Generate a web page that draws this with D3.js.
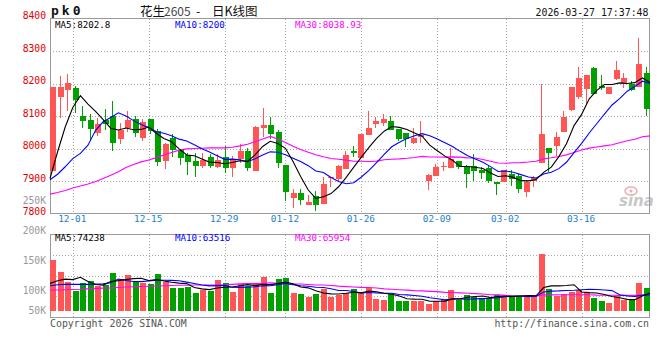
<!DOCTYPE html>
<html>
<head>
<meta charset="utf-8">
<script src="https://cdn.jsdelivr.net/npm/d3@7/dist/d3.min.js"></script>
<style>
  body { margin: 0; background: #fff; }
  svg { display: block; }
  text { font-family: "DejaVu Sans Mono", monospace; }
</style>
</head>
<body>
<svg id="chart" width="660" height="360"></svg>
<script>
// daily bars, 11-26 .. 03-27 (80 sessions)
var opens = [7933, 8159, 8180, 8186, 8100, 8088, 8049, 8088, 8100, 8031,
  8064, 8092, 8034, 8092, 8054, 7963, 8034, 7995, 7980, 7962,
  7948, 7974, 7945, 7974, 7940, 7969, 7992, 7933, 8064, 8072,
  8051, 7951, 7849, 7864, 7828, 7856, 7832, 7911, 7907, 7939,
  7994, 7972, 8042, 8077, 8080, 8085, 8060, 8050, 8018, 8037,
  7902, 7917, 7943, 7940, 7962, 7947, 7947, 7935, 7940, 7898,
  7898, 7922, 7916, 7868, 7901, 7958, 8003, 8009, 8052, 8118,
  8159, 8183, 8248, 8192, 8168, 8213, 8200, 8200, 8190, 8232];
var highs = [8189, 8223, 8230, 8194, 8131, 8106, 8096, 8121, 8147, 8079,
  8115, 8100, 8092, 8092, 8062, 8018, 8044, 7998, 7987, 7986,
  7988, 7984, 7985, 8008, 7978, 8016, 8004, 8069, 8124, 8098,
  8057, 7951, 7877, 7877, 7859, 7872, 7914, 7914, 7950, 7993,
  8008, 8045, 8116, 8099, 8107, 8102, 8060, 8050, 8065, 8085,
  7924, 7952, 7960, 8004, 7962, 7950, 7983, 7945, 7948, 7898,
  7935, 7935, 7922, 7904, 7917, 8200, 8003, 8052, 8115, 8190,
  8251, 8226, 8251, 8226, 8190, 8269, 8234, 8208, 8339, 8250];
var lows = [7933, 8096, 8115, 8110, 8064, 8023, 8039, 8059, 7994, 8015,
  8052, 8035, 8023, 8046, 7948, 7938, 7976, 7951, 7921, 7914,
  7940, 7942, 7940, 7927, 7914, 7957, 7932, 7933, 8035, 8031,
  7942, 7840, 7819, 7828, 7828, 7809, 7832, 7884, 7902, 7939,
  7976, 7972, 8042, 8064, 8069, 8057, 8023, 8006, 8015, 8018,
  7873, 7917, 7933, 7940, 7939, 7881, 7901, 7907, 7894, 7859,
  7898, 7886, 7863, 7853, 7884, 7958, 7930, 7978, 8052, 8116,
  8154, 8139, 8167, 8180, 8168, 8210, 8188, 8178, 8190, 8100];
var closes = [8189, 8189, 8201, 8150, 8086, 8061, 8076, 8076, 8018, 8059,
  8090, 8049, 8082, 8054, 7960, 8015, 7997, 7973, 7960, 7948,
  7967, 7948, 7967, 7942, 7967, 7992, 7940, 8066, 8072, 8046,
  7957, 7867, 7864, 7843, 7837, 7828, 7892, 7914, 7947, 7980,
  7987, 8045, 8063, 8085, 8091, 8059, 8031, 8030, 8033, 8042,
  7920, 7945, 7948, 7970, 7945, 7922, 7933, 7927, 7902, 7891,
  7935, 7907, 7877, 7899, 7911, 8045, 7988, 8037, 8097, 8190,
  8217, 8226, 8167, 8188, 8190, 8241, 8217, 8180, 8259, 8121];
var volumes = [215400, 164200, 122100, 84300, 117200, 126400, 102300, 109100, 160200, 134800,
  148900, 122300, 116800, 111200, 155900, 119300, 96800, 97100, 101200, 75800,
  88400, 81200, 130600, 118100, 80200, 113700, 105300, 110800, 143200, 75900,
  134700, 139100, 76300, 71800, 59200, 72100, 92800, 58900, 67300, 75800,
  93100, 80200, 96900, 50800, 46300, 71900, 42300, 41800, 42100, 42400,
  29300, 42200, 46100, 88300, 43200, 64400, 57700, 54800, 55200, 67100,
  67300, 57800, 63200, 62900, 63100, 240200, 92700, 63300, 71800, 78900,
  88100, 78800, 54900, 42200, 33800, 63100, 44200, 48300, 117900, 96800];

// averages at the left edge need sessions that are off the chart
var ma5Lead = [7909, 7991, 8067, 8127];
var ma10Lead = [7905, 7922, 7945, 7970, 7986, 8011, 8057, 8083, 8096];
var ma30Lead = [7861, 7866, 7872, 7880, 7886, 7892, 7900, 7909, 7919, 7930,
  7943, 7952, 7960, 7966, 7973, 7981, 7989, 7996, 8000, 8001,
  8002, 8003, 8003, 8003, 8005, 8009, 8014, 8022, 8030];
var volMa5Lead = [115000, 126000, 133000, 131000];
var volMa10Lead = [105000, 109000, 111000, 111000, 111000, 111000, 112000, 113000, 118000];
var volMa30Lead = [87000, 87000, 88000, 89000, 90000, 92000, 94000, 95000, 96000, 98000,
  100000, 101000, 102000, 103000, 104000, 105000, 106000, 107000, 107000, 108000,
  108000, 108000, 108000, 109000, 111000, 113000, 114000, 114000, 114000];

var tickIndex = [3, 13, 23, 31, 41, 51, 60, 70];
var tickLabels = ['12-01', '12-15', '12-29', '01-12', '01-26', '02-09', '03-02', '03-16'];
var priceTicks = [7800, 7900, 8000, 8100, 8200, 8300, 8400];
var volTicks = [50000, 100000, 150000, 200000];
var volTickLabels = ['50K', '100K', '150K', '200K'];
var priceMaText = ['MA5:8202.8', 'MA10:8200', 'MA30:8038.93'];
var volMaText = ['MA5:74238', 'MA10:63516', 'MA30:65954'];
var titleParts = ['花生', '2605', '-', '日K线图'];
var maColors = ['#000000', '#0000ff', '#ff00ff'];

var UP = '#ff5555', DOWN = '#00a000', FRAME = '#9a9a9a', GRID = '#a8a8a8';

var svg = d3.select('#chart');
var plot = { left: 50, right: 650 };
var main = { top: 18.5, bottom: 214 };
var vol = { top: 234.7, bottom: 318, base: 310.7 };

var n = closes.length;
var idx = d3.range(n);

var xBand = d3.scaleBand().domain(idx).range([plot.left, plot.right])
  .paddingInner(0.2).paddingOuter(0);
// ma lines and the date grid run edge to edge on the index
var xLine = d3.scaleLinear().domain([0, n - 1]).range([plot.left, plot.right]);
var yPrice = d3.scaleLinear().domain([7800, 8400]).range([main.bottom, main.top]);
var yVol = d3.scaleLinear().domain([0, 320000]).range([vol.base, vol.top]);
// sina puts the volume labels unevenly
var yVolLabel = d3.scaleLinear().domain(volTicks).range([310.7, 290.7, 260, 230.7]);

function rollingMean(values, span, lead) {
  return values.map(function(v, i) {
    if (i < span - 1) return lead[i];
    return d3.mean(values.slice(i - span + 1, i + 1));
  });
}

var priceMa = [
  rollingMean(closes, 5, ma5Lead),
  rollingMean(closes, 10, ma10Lead),
  rollingMean(closes, 30, ma30Lead)
];
var volMa = [
  rollingMean(volumes, 5, volMa5Lead),
  rollingMean(volumes, 10, volMa10Lead),
  rollingMean(volumes, 30, volMa30Lead)
];

/* ---- grid ---- */
var grid = svg.append('g').attr('stroke', GRID).attr('stroke-dasharray', '1,2')
  .attr('shape-rendering', 'crispEdges');

grid.selectAll('line.h')
    .data(priceTicks.slice(1, -1))
  .enter().append('line')
    .attr('x1', plot.left).attr('x2', plot.right)
    .attr('y1', function(d) { return Math.round(yPrice(d)) + 0.5; })
    .attr('y2', function(d) { return Math.round(yPrice(d)) + 0.5; });

grid.selectAll('line.vh')
    .data(d3.range(1, 4))
  .enter().append('line')
    .attr('x1', plot.left).attr('x2', plot.right)
    .attr('y1', function(d) { return Math.round(vol.top + d * (316.7 - vol.top) / 4) + 0.5; })
    .attr('y2', function(d) { return Math.round(vol.top + d * (316.7 - vol.top) / 4) + 0.5; });

[[main.top, main.bottom], [vol.top, vol.bottom]].forEach(function(p) {
  grid.selectAll(null)
      .data(tickIndex)
    .enter().append('line')
      .attr('x1', function(d) { return Math.round(xLine(d)) + 0.5; })
      .attr('x2', function(d) { return Math.round(xLine(d)) + 0.5; })
      .attr('y1', p[0]).attr('y2', p[1]);
});

/* ---- frames ---- */
var frame = svg.append('g').attr('fill', 'none').attr('stroke', FRAME)
  .attr('shape-rendering', 'crispEdges');
frame.append('rect').attr('x', 50.5).attr('y', 18.5).attr('width', 599).attr('height', 195);
frame.append('rect').attr('x', 50.5).attr('y', 234.5).attr('width', 599).attr('height', 83);

/* ---- candles ---- */
var candles = svg.append('g').attr('shape-rendering', 'crispEdges');
var c = candles.selectAll('g')
    .data(idx)
  .enter().append('g')
    .attr('fill', function(i) { return closes[i] >= opens[i] ? UP : DOWN; })
    .attr('stroke', function(i) { return closes[i] >= opens[i] ? UP : DOWN; });

c.append('line')
    .attr('x1', function(i) { return Math.round(xBand(i)) + 2.5; })
    .attr('x2', function(i) { return Math.round(xBand(i)) + 2.5; })
    .attr('y1', function(i) { return yPrice(highs[i]); })
    .attr('y2', function(i) { return yPrice(lows[i]); });

c.append('rect')
    .attr('stroke', 'none')
    .attr('x', function(i) { return Math.round(xBand(i)); })
    .attr('width', Math.round(xBand.bandwidth()))
    .attr('y', function(i) { return yPrice(Math.max(opens[i], closes[i])); })
    .attr('height', function(i) {
      return Math.max(1, Math.abs(yPrice(opens[i]) - yPrice(closes[i])));
    });

/* ---- volume bars ---- */
svg.append('g').attr('shape-rendering', 'crispEdges')
  .selectAll('rect')
    .data(idx)
  .enter().append('rect')
    .attr('x', function(i) { return Math.round(xBand(i)); })
    .attr('width', Math.round(xBand.bandwidth()))
    .attr('y', function(i) { return yVol(volumes[i]); })
    .attr('height', function(i) { return yVol(0) - yVol(volumes[i]); })
    .attr('fill', function(i) { return closes[i] >= opens[i] ? UP : DOWN; });

/* ---- moving averages ---- */
var priceLine = d3.line()
  .x(function(d, i) { return xLine(i); })
  .y(function(d) { return yPrice(d); });
var volLine = d3.line()
  .x(function(d, i) { return xLine(i); })
  .y(function(d) { return yVol(d); });

svg.append('g').attr('fill', 'none').attr('stroke-width', 1.1)
  .selectAll('path')
    .data(priceMa.slice().reverse())
  .enter().append('path')
    .attr('d', priceLine)
    .attr('stroke', function(d, i) { return maColors[2 - i]; });

svg.append('g').attr('fill', 'none').attr('stroke-width', 1.1)
  .selectAll('path')
    .data(volMa.slice().reverse())
  .enter().append('path')
    .attr('d', volLine)
    .attr('stroke', function(d, i) { return maColors[2 - i]; });

/* ---- axes ---- */
var priceAxis = svg.append('g')
  .attr('transform', 'translate(46,-3)')
  .call(d3.axisLeft(yPrice).tickValues(priceTicks).tickSize(0).tickPadding(0)
    .tickFormat(d3.format('d')));
priceAxis.select('.domain').remove();
priceAxis.selectAll('text').attr('fill', '#e00000')
  .style('font-family', '"DejaVu Sans Mono", monospace').style('font-size', '9.7px');

var volAxis = svg.append('g')
  .attr('transform', 'translate(46,0)')
  .call(d3.axisLeft(yVolLabel).tickValues(volTicks).tickSize(0).tickPadding(0)
    .tickFormat(function(d, i) { return volTickLabels[i]; }));
volAxis.select('.domain').remove();
volAxis.selectAll('text').attr('fill', '#999')
  .style('font-family', '"DejaVu Sans Mono", monospace').style('font-size', '9.7px');

var dateAxis = svg.append('g')
  .attr('transform', 'translate(-1,215)')
  .call(d3.axisBottom(xLine).tickValues(tickIndex).tickSize(0).tickPadding(0)
    .tickFormat(function(d, i) { return tickLabels[i]; }));
dateAxis.select('.domain').remove();
dateAxis.selectAll('text').attr('fill', '#1a7fd0')
  .style('font-family', '"DejaVu Sans Mono", monospace').style('font-size', '9.4px');

// stray volume caption sina leaves in the price panel
svg.append('text').attr('x', 46).attr('y', 204).attr('text-anchor', 'end')
  .attr('fill', '#999').style('font-size', '9.7px').text('250K');

/* ---- legends ---- */
var legendX = [55, 175, 295];
function legend(texts, y) {
  svg.append('g').selectAll('text')
      .data(texts)
    .enter().append('text')
      .attr('x', function(d, i) { return legendX[i]; })
      .attr('y', y)
      .attr('fill', function(d, i) { return maColors[i]; })
      .style('font-size', '9.2px')
      .text(function(d) { return d; });
}
legend(priceMaText, 27.5);
legend(volMaText, 241);

/* ---- header / footer ---- */
svg.append('text').attr('x', 51).attr('y', 15)
  .style('font-size', '13px').style('font-weight', 'bold').style('letter-spacing', '3px')
  .attr('fill', '#111').text('pk0');

var titleX = [140, 164, 196, 212];
svg.append('g').selectAll('text')
    .data(titleParts)
  .enter().append('text')
    .attr('x', function(d, i) { return titleX[i]; })
    .attr('y', 15.5)
    .attr('fill', function(d, i) { return i === 1 ? '#444' : '#111'; })
    .style('font-family', '"Noto Sans CJK SC", sans-serif')
    .style('font-size', function(d, i) { return i === 1 ? '12px' : '12.5px'; })
    .text(function(d) { return d; });

svg.append('text').attr('x', 648.5).attr('y', 15.5).attr('text-anchor', 'end')
  .style('font-size', '9.9px').attr('fill', '#111').text('2026-03-27 17:37:48');
svg.append('text').attr('x', 50).attr('y', 327)
  .style('font-size', '9.9px').attr('fill', '#555').text('Copyright 2026 SINA.COM');
svg.append('text').attr('x', 649).attr('y', 327).attr('text-anchor', 'end')
  .style('font-size', '9.9px').attr('fill', '#555').text('http://finance.sina.com.cn');

// sina watermark
var mark = svg.append('g').attr('opacity', 0.55);
mark.append('ellipse').attr('cx', 631).attr('cy', 191).attr('rx', 6).attr('ry', 4)
  .attr('fill', 'none').attr('stroke', '#e07070').attr('stroke-width', 1.5);
mark.append('circle').attr('cx', 631).attr('cy', 191).attr('r', 1.6).attr('fill', '#e07070');
mark.append('text').attr('x', 619).attr('y', 206)
  .style('font-family', '"DejaVu Sans", sans-serif').style('font-size', '15px')
  .style('font-style', 'italic').style('font-weight', 'bold')
  .attr('fill', '#9a9a9a').text('sina');
</script>
</body>
</html>
